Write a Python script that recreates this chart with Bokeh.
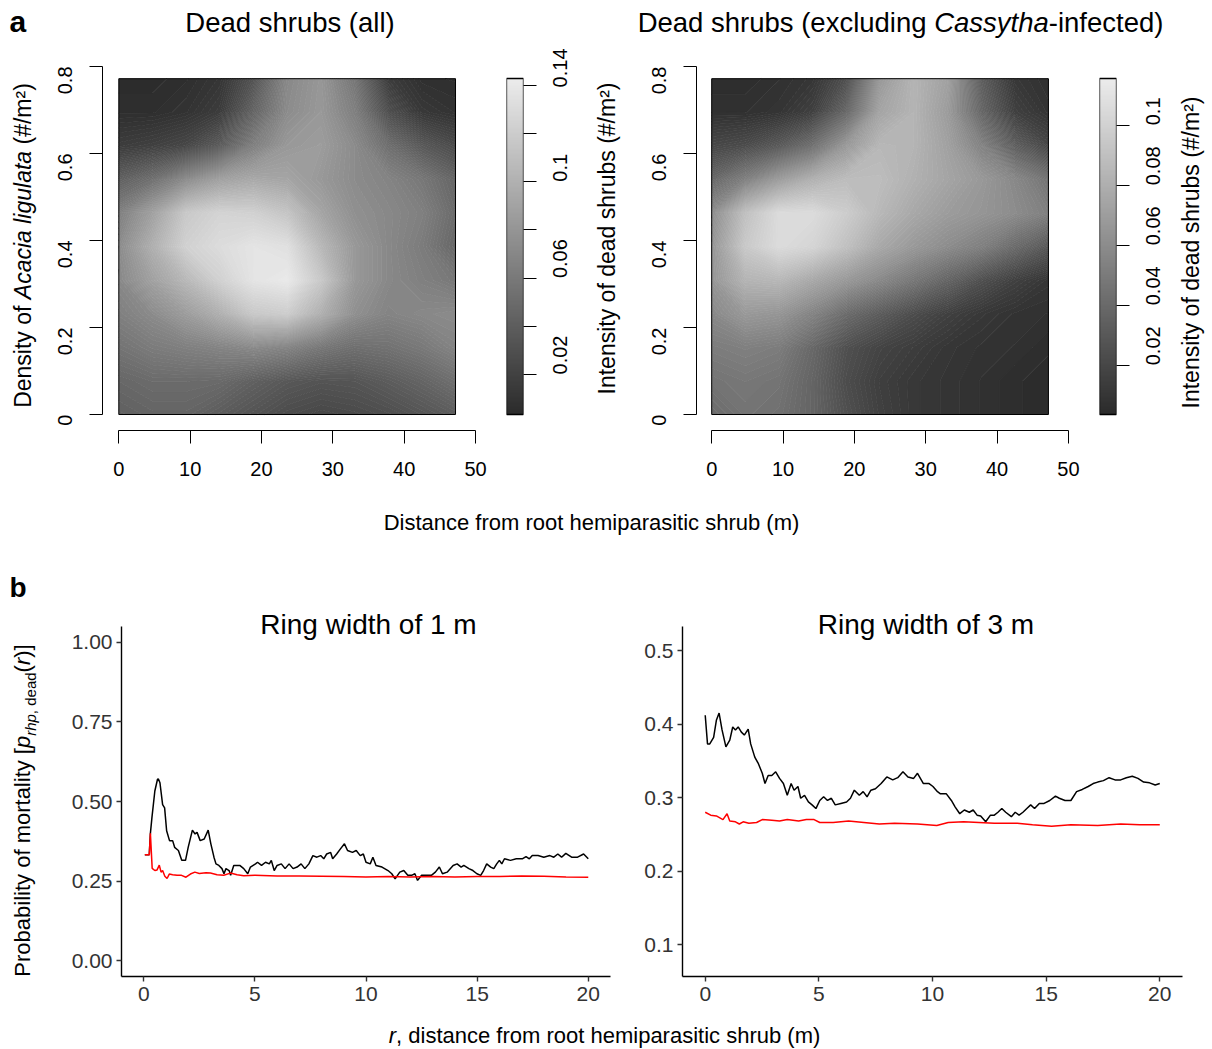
import math
import numpy as np
from bokeh.plotting import figure
from bokeh.models import Range1d, LinearColorMapper, Label, FixedTicker
from bokeh.layouts import column, row
from bokeh.embed import file_html
from bokeh.resources import INLINE

FONT = "Liberation Sans"

# ------------------------------------------------------------------ data
# heat maps read on a regular grid of nodes (distance x density)
dist_nodes = [0, 4.72, 9.44, 14.16, 18.88, 23.6, 28.32, 33.04, 37.76, 42.48, 47.2]
dens_nodes = [0, 0.0772, 0.1544, 0.2316, 0.3088, 0.386, 0.4632, 0.5404, 0.6176, 0.6948, 0.772]
# rows: density from 0 upward; columns: distance from 0 outward
dead_all = [
    [0.042, 0.045, 0.045, 0.039, 0.033, 0.027, 0.024, 0.026, 0.029, 0.034, 0.040],
    [0.047, 0.050, 0.050, 0.049, 0.042, 0.036, 0.033, 0.034, 0.039, 0.045, 0.053],
    [0.056, 0.062, 0.065, 0.068, 0.072, 0.068, 0.059, 0.053, 0.055, 0.060, 0.068],
    [0.065, 0.073, 0.085, 0.099, 0.117, 0.120, 0.099, 0.076, 0.068, 0.071, 0.073],
    [0.071, 0.088, 0.105, 0.123, 0.137, 0.141, 0.117, 0.082, 0.071, 0.065, 0.059],
    [0.073, 0.099, 0.123, 0.131, 0.137, 0.134, 0.105, 0.082, 0.071, 0.062, 0.047],
    [0.065, 0.088, 0.117, 0.125, 0.123, 0.114, 0.091, 0.076, 0.071, 0.065, 0.050],
    [0.042, 0.053, 0.073, 0.088, 0.094, 0.091, 0.082, 0.073, 0.068, 0.059, 0.046],
    [0.016, 0.019, 0.024, 0.039, 0.065, 0.082, 0.085, 0.073, 0.053, 0.037, 0.027],
    [0.006, 0.006, 0.009, 0.016, 0.045, 0.073, 0.082, 0.065, 0.030, 0.013, 0.009],
    [0.004, 0.004, 0.006, 0.011, 0.033, 0.071, 0.081, 0.058, 0.016, 0.007, 0.006],
]
dead_excl = [
    [0.041, 0.046, 0.044, 0.037, 0.025, 0.016, 0.011, 0.009, 0.007, 0.005, 0.004],
    [0.046, 0.048, 0.046, 0.037, 0.023, 0.015, 0.011, 0.009, 0.007, 0.005, 0.004],
    [0.051, 0.053, 0.051, 0.039, 0.025, 0.018, 0.014, 0.010, 0.008, 0.007, 0.005],
    [0.058, 0.067, 0.065, 0.055, 0.041, 0.032, 0.023, 0.016, 0.011, 0.008, 0.007],
    [0.065, 0.083, 0.085, 0.076, 0.067, 0.058, 0.048, 0.037, 0.025, 0.016, 0.010],
    [0.065, 0.095, 0.106, 0.102, 0.090, 0.076, 0.067, 0.060, 0.053, 0.041, 0.030],
    [0.060, 0.090, 0.106, 0.106, 0.097, 0.085, 0.076, 0.069, 0.065, 0.060, 0.053],
    [0.039, 0.053, 0.069, 0.081, 0.088, 0.088, 0.081, 0.074, 0.067, 0.058, 0.046],
    [0.020, 0.023, 0.031, 0.044, 0.067, 0.085, 0.083, 0.072, 0.055, 0.034, 0.020],
    [0.007, 0.007, 0.009, 0.016, 0.039, 0.074, 0.083, 0.069, 0.039, 0.016, 0.009],
    [0.005, 0.005, 0.007, 0.010, 0.025, 0.067, 0.083, 0.072, 0.034, 0.011, 0.007],
]
scale_all = [0.0034, 0.1428]
scale_excl = [0.0036, 0.1156]
scale_all_ticks = [0.02, 0.06, 0.10, 0.14]
scale_all_minor = [0.04, 0.08, 0.12]
scale_all_labels = ["0.02", "0.06", "0.1", "0.14"]
scale_excl_ticks = [0.02, 0.04, 0.06, 0.08, 0.10]
scale_excl_labels = ["0.02", "0.04", "0.06", "0.08", "0.1"]
dist_ticks = [0, 10, 20, 30, 40, 50]
dist_labels = ["0", "10", "20", "30", "40", "50"]
dens_ticks = [0, 0.2, 0.4, 0.6, 0.8]
dens_labels = ["0", "0.2", "0.4", "0.6", "0.8"]

# ring width of 1 m
r1_black_x = [0.05, 0.25, 0.30, 0.37, 0.5, 0.62, 0.66, 0.73, 0.85, 0.94, 1.03, 1.16, 1.3, 1.39, 1.56, 1.71, 1.88,
              2.0, 2.19, 2.31, 2.4, 2.54, 2.72, 2.9, 3.02, 3.16, 3.25, 3.38, 3.52, 3.61, 3.7, 3.84, 3.91, 4.05,
              4.32, 4.5, 4.68, 4.8, 5.03, 5.12, 5.3, 5.48, 5.65, 5.74, 5.87, 6.0, 6.19, 6.36, 6.54, 6.72, 6.9,
              7.08, 7.25, 7.43, 7.61, 7.79, 7.96, 8.1, 8.23, 8.41, 8.5, 8.68, 8.85, 9.03, 9.17, 9.39, 9.56, 9.74,
              9.88, 10.0, 10.19, 10.31, 10.45, 10.72, 10.99, 11.16, 11.31, 11.52, 11.7, 11.88, 12.05, 12.2, 12.32,
              12.5, 12.76, 12.94, 13.12, 13.3, 13.44, 13.65, 13.92, 14.1, 14.28, 14.4, 14.63, 14.81, 14.99, 15.16,
              15.29, 15.43, 15.61, 15.75, 15.88, 16.0, 16.11, 16.23, 16.5, 16.76, 17.03, 17.2, 17.35, 17.48, 17.74,
              18.0, 18.27, 18.45, 18.63, 18.8, 18.99, 19.25, 19.52, 19.79, 20.0]
r1_black_y = [0.333, 0.333, 0.40, 0.45, 0.533, 0.57, 0.571, 0.559, 0.49, 0.48, 0.408, 0.377, 0.377, 0.356, 0.346,
              0.315, 0.315, 0.356, 0.41, 0.398, 0.403, 0.377, 0.382, 0.41, 0.367, 0.325, 0.304, 0.299, 0.289, 0.273,
              0.289, 0.283, 0.268, 0.299, 0.299, 0.289, 0.273, 0.294, 0.304, 0.309, 0.299, 0.309, 0.304, 0.315,
              0.283, 0.299, 0.304, 0.289, 0.304, 0.289, 0.294, 0.304, 0.289, 0.304, 0.33, 0.325, 0.33, 0.32, 0.335,
              0.34, 0.32, 0.335, 0.351, 0.367, 0.346, 0.34, 0.346, 0.33, 0.335, 0.309, 0.304, 0.325, 0.299, 0.294,
              0.283, 0.273, 0.257, 0.278, 0.283, 0.268, 0.268, 0.273, 0.252, 0.268, 0.268, 0.268, 0.278, 0.294,
              0.273, 0.278, 0.299, 0.304, 0.294, 0.299, 0.289, 0.283, 0.273, 0.268, 0.283, 0.304, 0.294, 0.289,
              0.304, 0.315, 0.304, 0.32, 0.315, 0.32, 0.32, 0.327, 0.32, 0.33, 0.33, 0.325, 0.33, 0.325, 0.335,
              0.325, 0.337, 0.325, 0.325, 0.335, 0.32]
r1_red_x = [0.05, 0.25, 0.30, 0.38, 0.5, 0.6, 0.7, 0.78, 0.85, 0.95, 1.05, 1.15, 1.3, 1.5, 1.7, 1.9, 2.1, 2.3, 2.5,
            2.8, 3.0, 3.3, 3.6, 3.9, 4.2, 4.5, 5.0, 6.0, 7.0, 8.0, 9.0, 10.0, 11.0, 12.0, 13.0, 14.0, 15.0, 16.0,
            17.0, 18.0, 19.0, 20.0]
r1_red_y = [0.333, 0.333, 0.40, 0.29, 0.283, 0.285, 0.30, 0.278, 0.283, 0.265, 0.258, 0.272, 0.27, 0.268, 0.268,
            0.262, 0.272, 0.278, 0.274, 0.276, 0.275, 0.27, 0.268, 0.275, 0.27, 0.267, 0.268, 0.266, 0.266, 0.265,
            0.264, 0.263, 0.264, 0.263, 0.264, 0.263, 0.264, 0.264, 0.266, 0.265, 0.263, 0.262]

# ring width of 3 m
r3_black_x = [0, 0.1, 0.2, 0.37, 0.49, 0.61, 0.74, 0.91, 1.08, 1.21, 1.33, 1.45, 1.59, 1.72, 1.89, 2.0, 2.18, 2.34,
              2.51, 2.63, 2.77, 2.93, 3.1, 3.27, 3.44, 3.61, 3.78, 3.91, 4.08, 4.2, 4.37, 4.54, 4.7, 4.87, 5.04,
              5.21, 5.38, 5.55, 5.72, 5.97, 6.22, 6.39, 6.56, 6.78, 6.95, 7.12, 7.29, 7.49, 7.74, 7.99, 8.25, 8.47,
              8.7, 8.92, 9.17, 9.34, 9.6, 9.85, 10.02, 10.22, 10.35, 10.61, 10.83, 11.0, 11.2, 11.4, 11.62, 11.79,
              11.96, 12.12, 12.34, 12.55, 12.72, 12.88, 13.05, 13.22, 13.47, 13.64, 13.81, 13.98, 14.15, 14.32,
              14.49, 14.7, 14.91, 15.16, 15.41, 15.58, 15.83, 16.09, 16.34, 16.59, 16.85, 17.07, 17.27, 17.52,
              17.77, 18.03, 18.28, 18.53, 18.79, 19.04, 19.29, 19.55, 19.8, 20.0]
r3_black_y = [0.412, 0.373, 0.373, 0.382, 0.405, 0.415, 0.392, 0.369, 0.378, 0.396, 0.392, 0.396, 0.389, 0.385,
              0.393, 0.373, 0.355, 0.346, 0.333, 0.319, 0.33, 0.33, 0.335, 0.326, 0.319, 0.303, 0.319, 0.31, 0.315,
              0.299, 0.303, 0.294, 0.29, 0.285, 0.296, 0.301, 0.296, 0.299, 0.29, 0.292, 0.294, 0.299, 0.31, 0.303,
              0.308, 0.301, 0.31, 0.312, 0.319, 0.328, 0.324, 0.327, 0.335, 0.328, 0.326, 0.333, 0.319, 0.319,
              0.315, 0.308, 0.305, 0.305, 0.296, 0.287, 0.278, 0.283, 0.28, 0.283, 0.276, 0.275, 0.267, 0.276,
              0.276, 0.28, 0.285, 0.28, 0.274, 0.28, 0.276, 0.28, 0.285, 0.29, 0.285, 0.292, 0.292, 0.296, 0.302,
              0.299, 0.296, 0.296, 0.308, 0.311, 0.315, 0.319, 0.321, 0.323, 0.327, 0.324, 0.324, 0.327, 0.329,
              0.326, 0.321, 0.32, 0.317, 0.319]
r3_red_x = [0, 0.24, 0.49, 0.78, 0.96, 1.08, 1.33, 1.5, 1.67, 1.92, 2.26, 2.51, 2.93, 3.27, 3.61, 4.11, 4.45, 4.79,
            5.04, 5.63, 6.31, 6.98, 7.66, 8.33, 9.34, 10.19, 10.69, 11.37, 12.04, 12.72, 13.73, 14.4, 15.24, 16.09,
            17.27, 18.28, 19.12, 20.0]
r3_red_y = [0.28, 0.276, 0.275, 0.27, 0.278, 0.268, 0.267, 0.264, 0.267, 0.265, 0.266, 0.27, 0.269, 0.268, 0.27,
            0.268, 0.27, 0.27, 0.266, 0.266, 0.268, 0.266, 0.264, 0.265, 0.264, 0.262, 0.266, 0.267, 0.266, 0.265,
            0.265, 0.263, 0.261, 0.263, 0.262, 0.264, 0.263, 0.263]
r_ticks = [0, 5, 10, 15, 20]
r_labels = ["0", "5", "10", "15", "20"]
r_span = [-1, 21]
p1_ticks = [0, 0.25, 0.5, 0.75, 1.0]
p1_labels = ["0.00", "0.25", "0.50", "0.75", "1.00"]
p1_span = [-0.05, 1.05]
p3_ticks = [0.1, 0.2, 0.3, 0.4, 0.5]
p3_labels = ["0.1", "0.2", "0.3", "0.4", "0.5"]
p3_span = [0.0565, 0.5327]

# ------------------------------------------------------------------ helpers
CW = {' ': 278, '#': 556, '(': 333, ')': 333, ',': 278, '-': 333, '.': 278, '/': 278, '[': 278, ']': 278,
      '\u00b2': 333, 'A': 667, 'C': 722, 'D': 722, 'I': 278, 'P': 667, 'R': 722,
      'a': 556, 'b': 556, 'c': 500, 'd': 556, 'e': 556, 'f': 278, 'g': 556, 'h': 556, 'i': 222, 'k': 500,
      'l': 222, 'm': 833, 'n': 556, 'o': 556, 'p': 556, 'r': 333, 's': 500, 't': 278, 'u': 556, 'v': 500,
      'w': 722, 'x': 500, 'y': 500}
MID = 0.3465   # distance (in em) from the alphabetic baseline up to the middle of the em box


def tw(s, size):
    return sum(CW.get(c, 556) for c in s) / 1000.0 * size


def make_conv(frame, xr, yr):
    fl, fr, ft, fb = frame

    def conv(X, Y):
        x = xr[0] + (X - fl) * (xr[1] - xr[0]) / (fr - fl)
        y = yr[0] + (fb - Y) * (yr[1] - yr[0]) / (fb - ft)
        return x, y
    return conv


def put(p, conv, X, Y, text, size, style="normal", rotated=False, align="left"):
    """(X, Y): page position of the text's baseline anchor"""
    if rotated:
        X = X - MID * size
    else:
        Y = Y - MID * size
    x, y = conv(X, Y)
    p.add_layout(Label(x=x, y=y, text=text, text_font=FONT, text_font_size=f"{size}px",
                       text_font_style=style, angle=(math.pi / 2 if rotated else 0.0),
                       text_align=align, text_baseline="middle", text_color="black"))


def put_rich(p, conv, X, Y, pieces, rotated=False):
    """pieces: (text, size, style, baseline offset); centred on (X, Y) along the text direction"""
    total = sum(tw(t, s) for t, s, st, off in pieces)
    pos = -total / 2.0
    for t, s, st, off in pieces:
        lead = tw(t[:len(t) - len(t.lstrip())], s)
        txt = t.strip()
        if rotated:
            put(p, conv, X + off, Y - (pos + lead), txt, s, st, rotated=True)
        else:
            put(p, conv, X + pos + lead, Y + off, txt, s, st)
        pos += tw(t, s)


def fig(w, h, xr, yr, borders, **kw):
    l, r, t, b = borders
    p = figure(width=w, height=h, x_range=Range1d(*xr), y_range=Range1d(*yr), title=None,
               output_backend="svg", toolbar_location=None,
               min_border_left=l, min_border_right=r, min_border_top=t, min_border_bottom=b, **kw)
    p.xgrid.visible = False
    p.ygrid.visible = False
    p.outline_line_color = None
    p.background_fill_color = "white"
    p.border_fill_color = "white"
    return p


def strip(left, right, top, bottom, btop=0, bbot=0):
    """text-only panel; page box (left..right, top..bottom), frame inset by btop / bbot"""
    w, h = right - left, bottom - top
    fh = h - btop - bbot
    p = fig(w, h, (0, w), (0, fh), (0, 0, btop, bbot), x_axis_location=None, y_axis_location=None)
    return p, make_conv((left, right, top + btop, bottom - bbot), (0, w), (0, fh))


def style_axis(ax, ticks, labels, size, tick_len, color, standoff, line_w=1.0):
    ax.ticker = FixedTicker(ticks=ticks)
    ax.major_label_overrides = {t: l for t, l in zip(ticks, labels)}
    ax.axis_line_color = "black"
    ax.axis_line_width = line_w
    ax.major_tick_line_color = color
    ax.major_tick_line_width = line_w
    ax.major_tick_out = tick_len
    ax.major_tick_in = 0
    ax.minor_tick_line_color = None
    ax.major_label_text_font = FONT
    ax.major_label_text_font_size = f"{size}px"
    ax.major_label_text_color = color
    ax.major_label_standoff = standoff


def gray_hex(t):
    v = int(round(43 + 193 * t))
    return "#%02x%02x%02x" % (v, v, v)


grays = [gray_hex(t) for t in np.linspace(0, 1, 256)]

# ------------------------------------------------------------------ row 0: titles of panel a
S1, c1 = strip(0, 1212, 0, 48)
put(S1, c1, 9, 31.5, "a", 30, "bold")
put(S1, c1, 289.5, 31.5, "Dead shrubs (all)", 27.5, align="center")
put_rich(S1, c1, 900, 31.5, [("Dead shrubs (excluding ", 27.5, "normal", 0),
                             ("Cassytha", 27.5, "italic", 0),
                             ("-infected)", 27.5, "normal", 0)])

# ------------------------------------------------------------------ row 1: heat maps (page y 48..500)
TOP1, BOT1 = 18, 70          # frames span page y 66..430
H1 = 452
PX_X = 7.134                 # px per metre
PX_Y = 435.0                 # px per unit density
YR1 = (-16 / PX_Y, 0.8)


def heat_panel(grid, rng, left, w, fl, fr, x0_page):
    xstart = -(x0_page - fl) / PX_X
    xr = (xstart, xstart + (fr - fl) / PX_X)
    p = fig(w, H1, xr, YR1, (fl - left, left + w - fr, TOP1, BOT1))
    lo, hi = rng
    levels = np.linspace(lo, hi, 97)
    fills = [gray_hex((0.5 * (levels[i] + levels[i + 1]) - lo) / (hi - lo)) for i in range(len(levels) - 1)]
    lines = [gray_hex((lv - lo) / (hi - lo)) for lv in levels]
    X, Y = np.meshgrid(np.array(dist_nodes), np.array(dens_nodes))
    p.contour(X, Y, np.array(grid), levels, fill_color=fills, line_color=lines, line_width=1)
    p.quad(left=[dist_nodes[0]], right=[dist_nodes[-1]], bottom=[dens_nodes[0]], top=[dens_nodes[-1]],
           fill_color=None, line_color="black", line_width=1)
    style_axis(p.xaxis[0], dist_ticks, dist_labels, 20, 13, "black", 18)
    style_axis(p.yaxis[0], dens_ticks, dens_labels, 20, 13, "black", 25)
    p.xaxis.bounds = (dist_ticks[0], dist_ticks[-1])
    p.yaxis.bounds = (dens_ticks[0], dens_ticks[-1])
    p.yaxis.major_label_orientation = math.pi / 2
    return p


def cbar_panel(rng, left, w, fl, fr, ticks, labels, minor=None):
    lo, hi = rng
    k = (hi - lo) / 336.0          # colour bar drawn between page y 78 and 414
    yr = (lo - 16 * k, hi + 12 * k)
    mapper = LinearColorMapper(palette=grays, low=lo, high=hi)
    p = fig(w, H1, (0, 1), yr, (fl - left, left + w - fr, TOP1, BOT1),
            x_axis_location=None, y_axis_location="right")
    p.image(image=[np.linspace(lo, hi, 256)[:, None]], x=0, y=lo, dw=1, dh=hi - lo, color_mapper=mapper)
    p.quad(left=[0], right=[1], bottom=[lo], top=[hi], fill_color=None, line_color="black", line_width=1.3)
    ax = p.yaxis[0]
    style_axis(ax, ticks, labels, 20, 13, "black", 24)
    ax.axis_line_color = None
    if minor:
        ax.ticker = FixedTicker(ticks=ticks, minor_ticks=minor)
        ax.minor_tick_line_color = "black"
        ax.minor_tick_out = 13
        ax.minor_tick_in = 0
    ax.major_label_orientation = math.pi / 2
    return p


LA, cLA = strip(0, 44, 48, 500, TOP1, BOT1)
put_rich(LA, cLA, 30, 245, [("Density of ", 23, "normal", 0), ("Acacia ligulata", 23, "italic", 0),
                            (" (#/m\u00b2)", 23, "normal", 0)], rotated=True)
A = heat_panel(dead_all, scale_all, 44, 446, 102, 475, 118.3)
B = cbar_panel(scale_all, 490, 100, 506, 523, scale_all_ticks, scale_all_labels, scale_all_minor)
LC, cLC = strip(590, 630, 48, 500, TOP1, BOT1)
put(LC, cLC, 614, 238, "Intensity of dead shrubs (#/m\u00b2)", 23, rotated=True, align="center")
C = heat_panel(dead_excl, scale_excl, 630, 453, 696, 1069, 711.2)
D = cbar_panel(scale_excl, 1083, 87, 1099, 1116, scale_excl_ticks, scale_excl_labels)
LD, cLD = strip(1170, 1212, 48, 500, TOP1, BOT1)
put(LD, cLD, 1198, 252, "Intensity of dead shrubs (#/m\u00b2)", 23, rotated=True, align="center")

# ------------------------------------------------------------------ row 2: shared x label
S2, c2 = strip(0, 1212, 500, 548)
put(S2, c2, 591, 530, "Distance from root hemiparasitic shrub (m)", 22, align="center")

# ------------------------------------------------------------------ row 3: ring-width panels (page y 548..1012)
TOP3, BOT3 = 8, 36           # frames span page y 556..976; axes occupy 626..976
H3 = 464


def ring_panel(left, w, fl, fr, yspan, bx, by, rx, ry, yticks, ylabels, title, tx):
    pxu = 350.0 / (yspan[1] - yspan[0])
    yr = (yspan[0], yspan[1] + 70 / pxu)
    p = fig(w, H3, tuple(r_span), yr, (fl - left, left + w - fr, TOP3, BOT3))
    p.line(bx, by, line_color="black", line_width=1.5)
    p.line(rx, ry, line_color="red", line_width=1.5)
    style_axis(p.xaxis[0], r_ticks, r_labels, 21, 5, "#333333", 5, 1.4)
    style_axis(p.yaxis[0], yticks, ylabels, 21, 5, "#333333", 4, 1.4)
    p.xaxis.axis_line_color = "black"
    p.yaxis.axis_line_color = "black"
    p.yaxis.bounds = tuple(yspan)
    cv = make_conv((fl, fr, 548 + TOP3, 548 + H3 - BOT3), tuple(r_span), yr)
    put(p, cv, tx, 633.3, title, 28, align="center")
    return p


LE, cLE = strip(0, 40, 548, 1012, TOP3, BOT3)
put(LE, cLE, 9, 597, "b", 28, "bold")
put_rich(LE, cLE, 30, 810, [("Probability of mortality [", 22, "normal", 0), ("p", 22, "italic", 0),
                            ("rhp", 15, "italic", 5), (", dead", 15, "normal", 5), ("(", 22, "normal", 0),
                            ("r", 22, "italic", 0), (")]", 22, "normal", 0)], rotated=True)
E = ring_panel(40, 596, 121, 610, p1_span, r1_black_x, r1_black_y, r1_red_x, r1_red_y,
               p1_ticks, p1_labels, "Ring width of 1 m", 368)
F = ring_panel(636, 576, 682, 1182, p3_span, r3_black_x, r3_black_y, r3_red_x, r3_red_y,
               p3_ticks, p3_labels, "Ring width of 3 m", 925.5)

# ------------------------------------------------------------------ row 4: shared x label
S4, c4 = strip(0, 1212, 1012, 1048)
put_rich(S4, c4, 604, 1042.5, [("r", 22, "italic", 0),
                               (", distance from root hemiparasitic shrub (m)", 22, "normal", 0)])

layout = column(S1, row(LA, A, B, LC, C, D, LD), S2, row(LE, E, F), S4)
open("out.html", "w").write(file_html(layout, INLINE))
